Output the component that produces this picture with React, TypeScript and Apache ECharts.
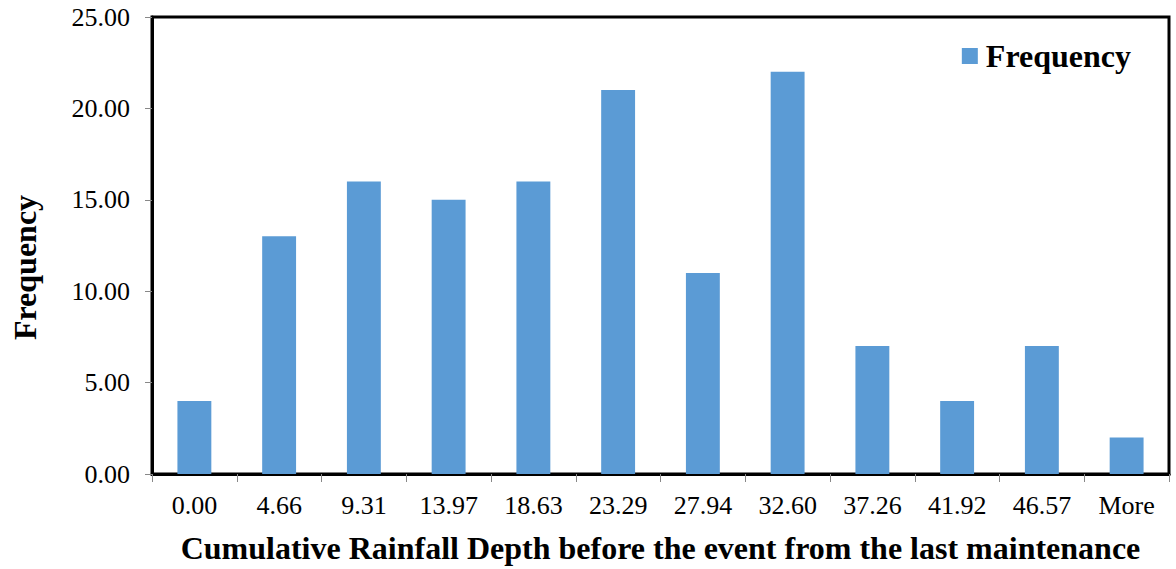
import React, { useEffect, useRef } from "react";
import * as echarts from "echarts";

const categories = ["0.00", "4.66", "9.31", "13.97", "18.63", "23.29", "27.94", "32.60", "37.26", "41.92", "46.57", "More"];
const frequency = [4, 13, 16, 15, 16, 21, 11, 22, 7, 4, 7, 2];
const yTicks = { min: 0, max: 25, interval: 5 };

const serif = "'Liberation Serif', 'Times New Roman', serif";

export default function App() {
  const ref = useRef<HTMLDivElement>(null);
  useEffect(() => {
    if (!ref.current) return;
    const chart = echarts.init(ref.current, null, { renderer: "svg" });
    chart.setOption({
      animation: false,
      backgroundColor: "#fff",
      grid: {
        left: 152,
        top: 17,
        right: 7,
        bottom: 95,
        outerBoundsMode: "none",
        containLabel: false,
        show: true,
        borderColor: "#000",
        borderWidth: 3,
        backgroundColor: "transparent",
      },
      legend: {
        show: true,
        right: 40,
        top: 35,
        itemWidth: 16,
        itemHeight: 16,
        itemGap: 6,
        icon: "rect",
        textStyle: { fontFamily: serif, fontWeight: "bold", fontSize: 32, color: "#000", padding: [0, 0, 0, 3] },
      },
      xAxis: {
        type: "category",
        data: categories,
        name: "Cumulative Rainfall Depth before the event from the last maintenance",
        nameLocation: "middle",
        nameGap: 58,
        nameTextStyle: { fontFamily: serif, fontWeight: "bold", fontSize: 32, color: "#000" },
        axisLine: { show: true, lineStyle: { color: "#000", width: 3 } },
        axisTick: { show: true, length: 8, lineStyle: { color: "#888", width: 1 } },
        axisLabel: { fontFamily: serif, fontSize: 26, color: "#000", margin: 18 },
        splitLine: { show: false },
      },
      yAxis: {
        type: "value",
        min: yTicks.min,
        max: yTicks.max,
        interval: yTicks.interval,
        name: "Frequency",
        nameLocation: "middle",
        nameGap: 111,
        nameTextStyle: {
          fontFamily: serif,
          fontWeight: "bold",
          fontSize: 32,
          color: "#000",
          padding: [0, 44, 0, 0],
        },
        axisLine: { show: true, lineStyle: { color: "#000", width: 3 } },
        axisTick: { show: true, length: 7, lineStyle: { color: "#888", width: 1 } },
        axisLabel: {
          fontFamily: serif,
          fontSize: 26,
          color: "#000",
          margin: 22,
          formatter: (v: number) => v.toFixed(2),
        },
        splitLine: { show: false },
      },
      series: [
        {
          name: "Frequency",
          type: "bar",
          data: frequency,
          barWidth: "40%",
          itemStyle: { color: "#5B9BD5" },
        },
      ],
    });
    return () => chart.dispose();
  }, []);
  return <div ref={ref} style={{ width: 1176, height: 569, position: "absolute", left: 0, top: 0 }} />;
}
